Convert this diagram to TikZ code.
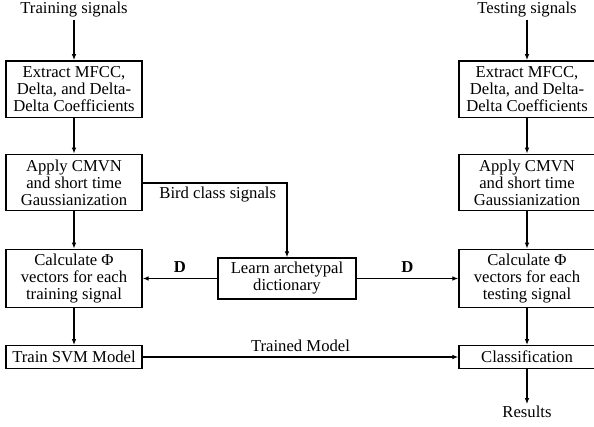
\documentclass[tikz,border=0pt]{standalone}
\usepackage{fontspec}
\setmainfont{Liberation Serif}
\usetikzlibrary{arrows.meta}
\begin{document}
\begin{tikzpicture}[x=0.6pt,y=-0.6pt,
  every node/.style={font=\fontsize{10}{10.2}\selectfont},
  box/.style={draw,line width=0.8pt,align=center,minimum width=81.6pt,inner xsep=2pt,inner ysep=0pt},
  tall/.style={minimum height=33.8pt},
  short/.style={minimum height=13.6pt},
  lbl/.style={inner sep=1pt},
  arr/.style={line width=0.8pt,-{Latex[length=3.6pt,width=2.8pt]}},
  ln/.style={line width=0.8pt}]
\useasboundingbox (0,0) rectangle (594,426);
% left column
\node[lbl] (tin) at (74,10) {Training signals};
\node[box,tall] (l1) at (74,89) {Extract MFCC,\\Delta, and Delta-\\Delta Coefficients};
\node[box,tall] (l2) at (74,182.5) {Apply CMVN\\and short time\\Gaussianization};
\node[box,tall,minimum height=35pt] (l3) at (74,278.5) {Calculate Φ\\vectors for each\\training signal};
\node[box,short] (l4) at (74,357) {Train SVM Model};
% right column
\node[lbl] (sin) at (527,10) {Testing signals};
\node[box,tall] (r1) at (527,89) {Extract MFCC,\\Delta, and Delta-\\Delta Coefficients};
\node[box,tall] (r2) at (527,182.5) {Apply CMVN\\and short time\\Gaussianization};
\node[box,tall,minimum height=35pt] (r3) at (527,278.5) {Calculate Φ\\vectors for each\\testing signal};
\node[box,short] (r4) at (527,357) {Classification};
\node[lbl] (res) at (527,412) {Results};
% middle
\node[box,minimum width=82.8pt,minimum height=24.6pt] (dict) at (287,278.5) {Learn archetypal\\dictionary};
\coordinate (bend) at (287,183);
% connectors
\draw[arr] (tin) -- (l1);
\draw[arr] (l1) -- (l2);
\draw[arr] (l2) -- (l3);
\draw[arr] (l3) -- (l4);
\draw[arr] (sin) -- (r1);
\draw[arr] (r1) -- (r2);
\draw[arr] (r2) -- (r3);
\draw[arr] (r3) -- (r4);
\draw[arr] (r4) -- (res);
\draw[arr] (l2.east |- bend) -- (bend) node[lbl,pos=0.52,below=1pt] {Bird class signals} -- (dict.north);
\draw[arr] (dict) -- node[lbl,above=2pt] {\textbf{D}} (l3);
\draw[arr] (dict) -- node[lbl,above=2pt] {\textbf{D}} (r3);
\draw[arr] (l4) -- node[lbl,above=2pt] {Trained Model} (r4);
\end{tikzpicture}
\end{document}
